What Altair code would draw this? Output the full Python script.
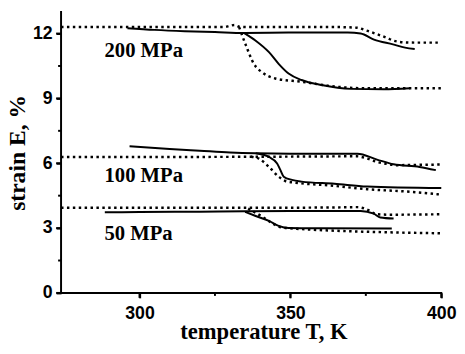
import altair as alt
import pandas as pd

# ---- data (temperature T in K, strain E in %) ----
# 200 MPa
s200a_T = [296, 305, 315, 325, 334.7, 350, 369, 373.3, 377.7, 384, 388, 391.2]
s200a_E = [12.25, 12.17, 12.11, 12.07, 12.03, 12.05, 12.05, 12.0, 11.72, 11.5, 11.35, 11.29]
s200b_T = [334.7, 338.5, 342.9, 346.1, 349.4, 353.7, 360.3, 370, 380.9, 389.6]
s200b_E = [12.02, 11.67, 11.14, 10.6, 10.15, 9.85, 9.62, 9.44, 9.42, 9.47]
d200a_T = [274, 300, 320, 328, 330, 331.5, 333, 336, 350, 365, 372, 375, 378.7, 382, 384.2, 388.4, 392, 400]
d200a_E = [12.3, 12.3, 12.3, 12.3, 12.36, 12.4, 12.32, 12.3, 12.3, 12.3, 12.27, 12.15, 11.97, 11.8, 11.67, 11.59, 11.58, 11.58]
d200b_T = [333, 335.3, 337.9, 340.7, 345, 353.8, 364.6, 375.4, 400]
d200b_E = [12.3, 11.44, 10.6, 10.2, 9.92, 9.77, 9.55, 9.47, 9.47]

# 100 MPa
s100a_T = [296.7, 310, 320, 330, 338.5, 350, 372.2, 378.7, 384.2, 392.8, 398.2]
s100a_E = [6.79, 6.66, 6.58, 6.5, 6.46, 6.44, 6.44, 6.17, 5.95, 5.83, 5.68]
s100b_T = [338.5, 342.9, 345.6, 346.7, 347.8, 350.5, 353.7, 364.6, 375.4, 400]
s100b_E = [6.46, 6.29, 5.99, 5.68, 5.38, 5.23, 5.15, 5.05, 4.92, 4.85]
d100a_T = [274, 300, 340, 372, 375.4, 378.7, 382, 385.2, 390, 400]
d100a_E = [6.29, 6.29, 6.3, 6.32, 6.22, 6.06, 5.97, 5.91, 5.92, 5.94]
d100b_T = [337, 339.6, 342.9, 346.1, 348.3, 353, 362.4, 375.4, 389.6, 400]
d100b_E = [6.3, 6.21, 5.83, 5.38, 5.18, 5.08, 4.98, 4.8, 4.68, 4.55]

# 50 MPa
s50a_T = [288.5, 300, 320, 335, 350, 373.3, 377.6, 379.8, 384.2]
s50a_E = [3.73, 3.74, 3.76, 3.78, 3.79, 3.79, 3.67, 3.49, 3.44]
s50b_T = [335, 338.5, 342.9, 346.1, 349.4, 360, 383.6]
s50b_E = [3.75, 3.56, 3.33, 3.1, 3.0, 2.99, 2.98]
d50a_T = [274, 300, 340, 368, 372.2, 375.4, 378.7, 383, 400]
d50a_E = [3.94, 3.94, 3.94, 3.96, 3.97, 3.86, 3.64, 3.62, 3.64]
d50b_T = [336, 341, 344.5, 347.2, 352, 364.6, 384, 400]
d50b_E = [3.9, 3.5, 3.18, 3.03, 2.97, 2.88, 2.8, 2.76]

label_text = ["200 MPa", "100 MPa", "50 MPa"]
label_T = [288.4, 288.4, 288.4]
label_E = [10.91, 5.15, 2.47]

# axis ranges and ticks (major ticks labelled, minor ticks not)
T_range = [274, 400]
E_range = [0, 13]
x_major = [300, 350, 400]
x_minor = [325, 375]
y_major = [0, 3, 6, 9, 12]
y_minor = [1.5, 4.5, 7.5, 10.5]

# ---- layout ----
W, H = 387, 286
MAJOR_PX, MINOR_PX = 5, 3
px_T = W / (T_range[1] - T_range[0])
px_E = H / (E_range[1] - E_range[0])

# ---- build tables ----
def frame(name, Ts, Es):
    return pd.DataFrame({"series": name, "T": Ts, "E": Es, "i": range(len(Ts))})

solid = pd.concat([
    frame("s200a", s200a_T, s200a_E), frame("s200b", s200b_T, s200b_E),
    frame("s100a", s100a_T, s100a_E), frame("s100b", s100b_T, s100b_E),
    frame("s50a", s50a_T, s50a_E), frame("s50b", s50b_T, s50b_E),
])
dotted = pd.concat([
    frame("d200a", d200a_T, d200a_E), frame("d200b", d200b_T, d200b_E),
    frame("d100a", d100a_T, d100a_E), frame("d100b", d100b_T, d100b_E),
    frame("d50a", d50a_T, d50a_E), frame("d50b", d50b_T, d50b_E),
])
labels = pd.DataFrame({"text": label_text, "T": label_T, "E": label_E})

# axis lines (drawn as rules through the scales)
axis_lines = pd.DataFrame({
    "T": [T_range[0], T_range[0]], "T2": [T_range[1], T_range[0]],
    "E": [E_range[0], E_range[0]], "E2": [E_range[0], E_range[1]],
})
x_tick_rows = [(v, MAJOR_PX) for v in x_major] + [(v, MINOR_PX) for v in x_minor]
y_tick_rows = [(v, MAJOR_PX) for v in y_major] + [(v, MINOR_PX) for v in y_minor]
tick_lines = pd.DataFrame(
    [{"T": v, "T2": v, "E": E_range[0], "E2": E_range[0] - L / px_E} for v, L in x_tick_rows]
    + [{"T": T_range[0], "T2": T_range[0] - L / px_T, "E": v, "E2": v} for v, L in y_tick_rows]
)

xscale = alt.Scale(domain=T_range, nice=False, zero=False)
yscale = alt.Scale(domain=E_range, nice=False)

x_axis = alt.Axis(values=x_major, orient="bottom", title="temperature T, K",
                  domain=False, ticks=True, tickSize=MAJOR_PX, tickWidth=2, tickColor="black",
                  labelFont="Liberation Sans", labelFontWeight="bold", labelFontSize=18,
                  labelColor="black", labelPadding=7, labelFlush=False,
                  titleFont="Liberation Serif", titleFontWeight="bold", titleFontSize=23,
                  titleColor="black", titleX=206, titleY=46, titleBaseline="alphabetic",
                  grid=False)
y_axis = alt.Axis(values=y_major, orient="left", title="strain E, %",
                  domain=False, ticks=True, tickSize=MAJOR_PX, tickWidth=2, tickColor="black",
                  labelFont="Liberation Sans", labelFontWeight="bold", labelFontSize=18,
                  labelColor="black", labelPadding=4, labelFlush=False,
                  titleFont="Liberation Serif", titleFontWeight="bold", titleFontSize=24,
                  titleColor="black", titlePadding=3,
                  grid=False)

solid_layer = alt.Chart(solid).mark_line(color="black", strokeWidth=2, interpolate="monotone").encode(
    x=alt.X("T:Q", scale=xscale, axis=x_axis),
    y=alt.Y("E:Q", scale=yscale, axis=y_axis),
    detail="series:N",
    order="i:Q",
)
dotted_layer = alt.Chart(dotted).mark_line(color="black", strokeWidth=2.5, strokeDash=[2.5, 3.5],
                                           interpolate="monotone").encode(
    x=alt.X("T:Q", scale=xscale),
    y=alt.Y("E:Q", scale=yscale),
    detail="series:N",
    order="i:Q",
)
text_layer = alt.Chart(labels).mark_text(font="Liberation Serif", fontWeight="bold", fontSize=21,
                                         align="left", baseline="alphabetic", color="black").encode(
    x=alt.X("T:Q", scale=xscale),
    y=alt.Y("E:Q", scale=yscale),
    text="text:N",
)
axis_layer = alt.Chart(axis_lines).mark_rule(color="black", strokeWidth=2, strokeCap="square").encode(
    x=alt.X("T:Q", scale=xscale), x2="T2:Q",
    y=alt.Y("E:Q", scale=yscale), y2="E2:Q",
)
tick_layer = alt.Chart(tick_lines).mark_rule(color="black", strokeWidth=2).encode(
    x=alt.X("T:Q", scale=xscale), x2="T2:Q",
    y=alt.Y("E:Q", scale=yscale), y2="E2:Q",
)

chart = alt.layer(solid_layer, dotted_layer, text_layer, axis_layer, tick_layer).properties(
    width=W, height=H,
    background="white",
    autosize=alt.AutoSizeParams(type="none"),
    padding={"left": 54, "top": 1, "right": 16, "bottom": 51},
).configure_view(strokeWidth=0)

chart.save("out.html", embed_options={"renderer": "svg", "actions": False})
